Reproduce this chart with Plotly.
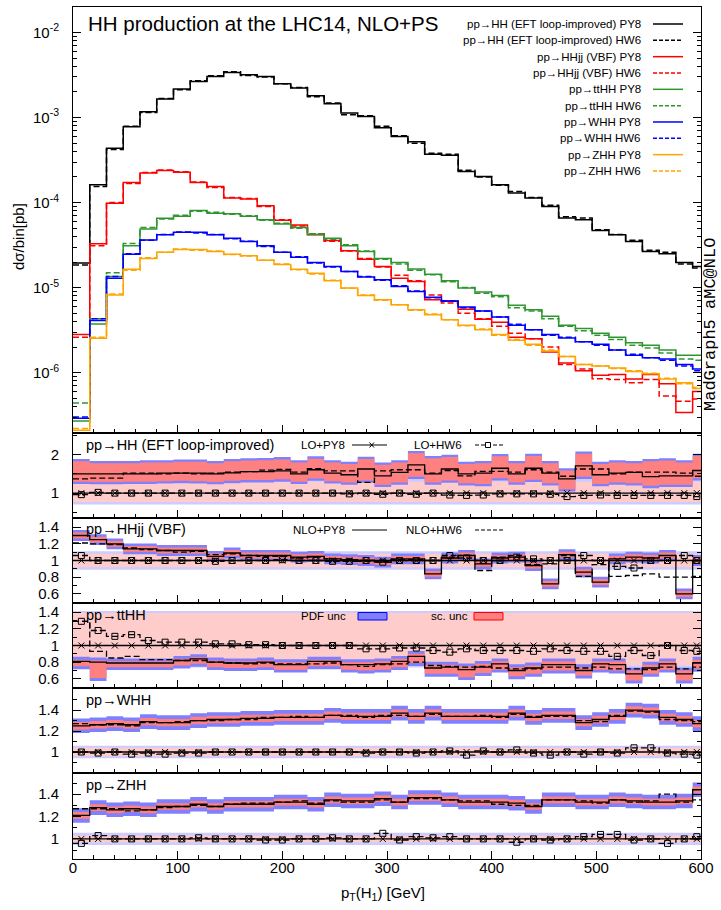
import plotly.graph_objects as go

# ---------------- data ----------------
EDGES = list(range(0, 600, 16)) + [600]          # 38 bins, last one clipped at 600 GeV
CENTERS = [(EDGES[i] + EDGES[i + 1]) / 2 for i in range(len(EDGES) - 1)]

# main panel: d sigma / bin [pb]
HH_PY8 = [1.95e-5, 1.62e-4, 4.36e-4, 7.8e-4, 1.17e-3, 1.65e-3, 2.16e-3, 2.66e-3, 3.04e-3, 3.38e-3,
          3.18e-3, 3.04e-3, 2.49e-3, 2.22e-3, 1.80e-3, 1.45e-3, 1.13e-3, 1.03e-3, 7.6e-4, 6.0e-4,
          5.2e-4, 3.7e-4, 3.6e-4, 2.32e-4, 2.03e-4, 1.62e-4, 1.30e-4, 1.13e-4, 9.0e-5, 6.6e-5,
          6.3e-5, 4.69e-5, 4.17e-5, 3.48e-5, 2.65e-5, 2.5e-5, 1.97e-5, 1.77e-5]
HH_HW6 = [1.85e-5, 1.55e-4, 4.2e-4, 7.9e-4, 1.15e-3, 1.68e-3, 2.12e-3, 2.7e-3, 3.1e-3, 3.45e-3,
          3.12e-3, 3.0e-3, 2.5e-3, 2.25e-3, 1.75e-3, 1.48e-3, 1.08e-3, 1.05e-3, 7.9e-4, 6.1e-4,
          5.0e-4, 3.8e-4, 3.7e-4, 2.4e-4, 2.0e-4, 1.6e-4, 1.35e-4, 1.15e-4, 9.3e-5, 6.8e-5,
          6.6e-5, 4.8e-5, 4.2e-5, 3.6e-5, 2.75e-5, 2.6e-5, 1.9e-5, 1.7e-5]
VBF_PY8 = [2.8e-6, 3.27e-5, 9.8e-5, 1.72e-4, 2.22e-4, 2.38e-4, 2.27e-4, 1.72e-4, 1.54e-4, 1.13e-4,
           1.1e-4, 9.2e-5, 6.2e-5, 5.44e-5, 4.17e-5, 3.57e-5, 2.72e-5, 2.16e-5, 1.77e-5, 1.29e-5,
           1.18e-5, 7.2e-6, 7.0e-6, 5.57e-6, 4.25e-6, 3.9e-6, 2.6e-6, 2.5e-6, 1.75e-6, 1.3e-6,
           1.05e-6, 9.3e-7, 9.5e-7, 8.4e-7, 9.5e-7, 7.4e-7, 3.4e-7, 6.0e-7]
VBF_HW6 = [2.6e-6, 3.1e-5, 1.0e-4, 1.68e-4, 2.25e-4, 2.42e-4, 2.3e-4, 1.75e-4, 1.5e-4, 1.15e-4,
           1.12e-4, 9.0e-5, 6.3e-5, 5.3e-5, 4.3e-5, 3.5e-5, 2.7e-5, 2.2e-5, 1.75e-5, 1.4e-5,
           1.2e-5, 8.2e-6, 6.6e-6, 5.0e-6, 4.3e-6, 3.5e-6, 2.9e-6, 2.5e-6, 2.0e-6, 1.25e-6,
           1.1e-6, 8.5e-7, 8.3e-7, 7.6e-7, 8.3e-7, 5.3e-7, 4.6e-7, 4.9e-7]
TTHH_PY8 = [2.7e-7, 3.74e-6, 1.35e-5, 3.1e-5, 4.9e-5, 6.55e-5, 6.9e-5, 8.05e-5, 7.5e-5, 7.4e-5,
            6.9e-5, 6.3e-5, 5.6e-5, 5.1e-5, 4.2e-5, 3.8e-5, 3.1e-5, 2.65e-5, 2.2e-5, 1.97e-5,
            1.65e-5, 1.44e-5, 1.2e-5, 9.9e-6, 8.9e-6, 8.1e-6, 6.2e-6, 5.5e-6, 4.6e-6, 3.6e-6,
            3.3e-6, 2.9e-6, 2.6e-6, 2.25e-6, 2.1e-6, 1.85e-6, 1.6e-6, 1.6e-6]
TTHH_HW6 = [4.4e-7, 4.3e-6, 1.5e-5, 3.3e-5, 5.1e-5, 6.4e-5, 7.1e-5, 7.9e-5, 7.7e-5, 7.3e-5,
            7.0e-5, 6.2e-5, 5.7e-5, 5.0e-5, 4.3e-5, 3.7e-5, 3.2e-5, 2.7e-5, 2.15e-5, 1.9e-5,
            1.6e-5, 1.42e-5, 1.17e-5, 1.0e-5, 8.6e-6, 7.8e-6, 5.8e-6, 5.3e-6, 4.3e-6, 3.5e-6,
            3.1e-6, 2.75e-6, 2.45e-6, 2.1e-6, 1.95e-6, 1.7e-6, 1.45e-6, 1.4e-6]
WHH_PY8 = [2.9e-7, 4.1e-6, 1.29e-5, 2.47e-5, 3.64e-5, 4.17e-5, 4.47e-5, 4.47e-5, 4.17e-5, 3.8e-5,
           3.48e-5, 3.1e-5, 2.6e-5, 2.27e-5, 1.97e-5, 1.77e-5, 1.55e-5, 1.33e-5, 1.24e-5, 1.03e-5,
           9.0e-6, 7.7e-6, 6.9e-6, 5.9e-6, 5.3e-6, 4.5e-6, 3.6e-6, 3.2e-6, 2.8e-6, 2.55e-6,
           2.3e-6, 2.15e-6, 1.85e-6, 1.6e-6, 1.5e-6, 1.45e-6, 1.25e-6, 1.1e-6]
WHH_HW6 = [3.0e-7, 4.3e-6, 1.35e-5, 2.5e-5, 3.6e-5, 4.2e-5, 4.5e-5, 4.4e-5, 4.2e-5, 3.75e-5,
           3.5e-5, 3.05e-5, 2.6e-5, 2.3e-5, 1.95e-5, 1.75e-5, 1.55e-5, 1.35e-5, 1.22e-5, 1.05e-5,
           9.1e-6, 7.6e-6, 7.0e-6, 5.8e-6, 5.3e-6, 4.5e-6, 3.7e-6, 3.2e-6, 2.75e-6, 2.6e-6,
           2.3e-6, 2.1e-6, 1.85e-6, 1.65e-6, 1.5e-6, 1.4e-6, 1.2e-6, 1.05e-6]
ZHH_PY8 = [2.1e-7, 2.54e-6, 8.2e-6, 1.64e-5, 2.2e-5, 2.6e-5, 2.8e-5, 2.8e-5, 2.65e-5, 2.47e-5,
           2.37e-5, 2.1e-5, 1.87e-5, 1.64e-5, 1.47e-5, 1.2e-5, 9.9e-6, 8.1e-6, 7.2e-6, 6.3e-6,
           5.5e-6, 4.8e-6, 4.2e-6, 3.6e-6, 3.2e-6, 2.8e-6, 2.4e-6, 2.15e-6, 1.8e-6, 1.55e-6,
           1.25e-6, 1.2e-6, 1.13e-6, 1.03e-6, 9.7e-7, 8.4e-7, 7.6e-7, 6.5e-7]
ZHH_HW6 = [2.2e-7, 2.6e-6, 8.4e-6, 1.6e-5, 2.25e-5, 2.6e-5, 2.85e-5, 2.75e-5, 2.7e-5, 2.45e-5,
           2.35e-5, 2.1e-5, 1.9e-5, 1.62e-5, 1.45e-5, 1.22e-5, 9.8e-6, 8.2e-6, 7.1e-6, 6.3e-6,
           5.4e-6, 4.9e-6, 4.2e-6, 3.55e-6, 3.25e-6, 2.75e-6, 2.45e-6, 2.1e-6, 1.85e-6, 1.55e-6,
           1.25e-6, 1.2e-6, 1.12e-6, 1.05e-6, 9.8e-7, 8.6e-7, 7.4e-7, 6.7e-7]

# ratio panels (ratio over LO+PY8)
LO_PY8 = [1.0, 1.0, 1.0, 1.0, 1.0, 1.0, 1.0, 1.0, 1.0, 1.0, 1.0, 1.0, 1.0, 1.0, 1.0, 1.0, 1.0, 1.0, 1.0,
          1.0, 1.0, 1.0, 1.0, 1.0, 1.0, 1.0, 1.0, 1.0, 1.0, 1.0, 1.0, 1.0, 1.0, 1.0, 1.0, 1.0, 1.0, 1.0]

HH_K_PY8 = [1.50, 1.50, 1.50, 1.50, 1.50, 1.52, 1.52, 1.52, 1.50, 1.53, 1.56, 1.56, 1.58, 1.50, 1.61, 1.52, 1.48,
            1.63, 1.45, 1.54, 1.74, 1.50, 1.63, 1.50, 1.52, 1.65, 1.50, 1.65, 1.52, 1.37, 1.71, 1.48, 1.52,
            1.54, 1.43, 1.45, 1.45, 1.59]
HH_K_HW6 = [1.37, 1.39, 1.39, 1.52, 1.52, 1.50, 1.52, 1.50, 1.52, 1.55, 1.56, 1.60, 1.62, 1.55, 1.64, 1.58, 1.58,
            1.28, 1.58, 1.61, 1.61, 1.52, 1.59, 1.45, 1.57, 1.57, 1.55, 1.61, 1.55, 1.44, 1.63, 1.63, 1.50,
            1.55, 1.55, 1.55, 1.52, 1.44]
HH_LO_HW6 = [0.96, 1.02, 1.0, 1.0, 1.0, 1.0, 1.0, 1.0, 1.0, 1.0, 1.0, 1.0, 1.0, 1.0, 1.0, 1.0, 0.98,
             1.0, 0.97, 1.0, 0.97, 1.0, 0.95, 0.94, 0.95, 0.98, 0.98, 0.98, 0.97, 0.91, 0.94, 0.95, 0.94,
             0.94, 0.94, 0.94, 0.94, 0.91]
HH_SC_HI = [1.83, 1.78, 1.78, 1.78, 1.80, 1.80, 1.82, 1.82, 1.78, 1.83, 1.85, 1.86, 1.88, 1.80, 1.90, 1.80, 1.76,
            1.89, 1.74, 1.80, 2.04, 1.91, 1.94, 1.76, 1.78, 1.96, 1.78, 1.97, 1.78, 1.59, 2.03, 1.76, 1.80,
            1.78, 1.83, 1.85, 1.80, 1.97]
HH_SC_LO = [1.30, 1.29, 1.29, 1.30, 1.30, 1.31, 1.32, 1.31, 1.29, 1.32, 1.34, 1.34, 1.36, 1.30, 1.38, 1.31, 1.28,
            1.33, 1.22, 1.28, 1.43, 1.28, 1.33, 1.26, 1.24, 1.39, 1.28, 1.35, 1.26, 1.10, 1.43, 1.24, 1.28,
            1.26, 1.19, 1.22, 1.22, 1.39]

VBF_K_PY8 = [1.30, 1.25, 1.20, 1.14, 1.14, 1.12, 1.12, 1.12, 1.05, 1.09, 1.06, 1.06, 1.06, 1.04, 1.05, 1.02, 1.01,
             1.00, 0.98, 1.02, 1.02, 0.84, 1.03, 1.06, 0.96, 1.03, 1.04, 0.94, 0.72, 1.07, 0.86, 0.74, 1.02,
             1.04, 1.03, 1.06, 0.60, 1.00]
VBF_K_HW6 = [1.21, 1.20, 1.19, 1.15, 1.13, 1.12, 1.10, 1.11, 1.07, 1.08, 1.06, 1.05, 1.05, 1.03, 1.04, 1.02, 1.00,
             0.99, 0.99, 1.01, 1.01, 1.00, 1.04, 1.06, 0.88, 1.04, 1.06, 0.95, 0.96, 1.06, 0.81, 0.95, 0.81,
             0.82, 0.84, 0.80, 0.80, 0.81]
VBF_LO_HW6 = [1.06, 1.0, 1.0, 1.0, 1.0, 1.0, 1.0, 1.0, 0.99, 1.0, 1.0, 1.0, 1.01, 1.0, 1.0, 0.99, 0.99,
              1.0, 0.98, 1.0, 1.0, 1.0, 1.06, 1.03, 1.0, 1.0, 1.04, 1.02, 1.0, 1.0, 1.06, 1.0, 0.93,
              0.91, 1.0, 1.0, 1.06, 1.0]

TTHH_K_PY8 = [0.81, 0.80, 0.79, 0.79, 0.79, 0.79, 0.82, 0.84, 0.80, 0.79, 0.79, 0.80, 0.77, 0.77, 0.81, 0.81, 0.77,
              0.77, 0.78, 0.81, 0.87, 0.73, 0.74, 0.71, 0.74, 0.78, 0.70, 0.73, 0.77, 0.77, 0.70, 0.78, 0.77,
              0.66, 0.73, 0.78, 0.66, 0.79]
TTHH_K_HW6 = [1.29, 0.93, 0.85, 0.87, 0.83, 0.83, 0.82, 0.82, 0.80, 0.79, 0.78, 0.79, 0.78, 0.78, 0.78, 0.79, 0.77,
              0.75, 0.77, 0.78, 0.80, 0.76, 0.75, 0.74, 0.75, 0.73, 0.72, 0.72, 0.74, 0.74, 0.73, 0.74, 0.72,
              0.72, 0.71, 0.74, 0.72, 0.74]
TTHH_LO_HW6 = [1.29, 1.18, 1.11, 1.13, 1.06, 1.04, 1.04, 1.04, 1.02, 1.02, 1.01, 1.01, 1.0, 1.0, 1.0, 1.0, 1.0,
               0.96, 0.96, 0.97, 0.97, 0.94, 0.92, 0.96, 0.94, 0.94, 0.94, 0.93, 0.96, 0.94, 0.93, 0.93, 0.87,
               0.94, 0.88, 1.0, 0.94, 0.93]
TTHH_SC_HI = [0.83, 0.82, 0.81, 0.81, 0.81, 0.81, 0.84, 0.86, 0.82, 0.81, 0.81, 0.82, 0.80, 0.80, 0.83, 0.83, 0.80,
              0.80, 0.81, 0.84, 0.90, 0.77, 0.77, 0.75, 0.78, 0.81, 0.74, 0.76, 0.81, 0.81, 0.74, 0.81, 0.81,
              0.70, 0.77, 0.81, 0.70, 0.83]
TTHH_SC_LO = [0.75, 0.61, 0.74, 0.74, 0.74, 0.74, 0.76, 0.78, 0.74, 0.73, 0.73, 0.74, 0.71, 0.71, 0.75, 0.75, 0.71,
              0.70, 0.71, 0.74, 0.79, 0.66, 0.66, 0.62, 0.67, 0.71, 0.63, 0.66, 0.70, 0.70, 0.64, 0.71, 0.70,
              0.58, 0.66, 0.71, 0.58, 0.72]

WHH_K_PY8 = [1.25, 1.26, 1.27, 1.26, 1.29, 1.28, 1.28, 1.30, 1.31, 1.31, 1.32, 1.32, 1.33, 1.33, 1.33, 1.35, 1.34,
             1.34, 1.34, 1.37, 1.34, 1.37, 1.34, 1.34, 1.34, 1.34, 1.37, 1.33, 1.35, 1.35, 1.28, 1.31, 1.34,
             1.40, 1.39, 1.33, 1.31, 1.27]
WHH_K_HW6 = [1.27, 1.26, 1.26, 1.25, 1.28, 1.28, 1.29, 1.30, 1.30, 1.31, 1.31, 1.33, 1.33, 1.34, 1.33, 1.35, 1.35,
             1.33, 1.35, 1.35, 1.34, 1.36, 1.34, 1.34, 1.35, 1.33, 1.36, 1.34, 1.34, 1.34, 1.30, 1.29, 1.35,
             1.39, 1.38, 1.31, 1.30, 1.29]
WHH_LO_HW6 = [1.0, 0.99, 1.0, 0.98, 0.99, 0.98, 0.99, 0.99, 1.0, 1.0, 1.0, 1.0, 1.0, 1.0, 1.0, 1.0, 1.0,
              0.99, 1.0, 1.0, 0.99, 1.0, 1.01, 0.97, 1.01, 1.0, 1.02, 0.99, 0.97, 1.0, 0.98, 1.0, 0.99,
              1.04, 1.04, 0.99, 0.98, 0.97]

ZHH_K_PY8 = [1.21, 1.28, 1.26, 1.27, 1.26, 1.29, 1.29, 1.31, 1.29, 1.31, 1.31, 1.31, 1.33, 1.33, 1.31, 1.35, 1.34,
             1.34, 1.36, 1.33, 1.37, 1.37, 1.35, 1.33, 1.33, 1.33, 1.32, 1.29, 1.35, 1.35, 1.33, 1.33, 1.35,
             1.34, 1.33, 1.33, 1.34, 1.44]
ZHH_K_HW6 = [1.27, 1.27, 1.27, 1.25, 1.26, 1.28, 1.29, 1.30, 1.29, 1.31, 1.32, 1.32, 1.33, 1.34, 1.32, 1.34, 1.33,
             1.33, 1.35, 1.33, 1.36, 1.36, 1.35, 1.34, 1.34, 1.31, 1.30, 1.30, 1.35, 1.35, 1.34, 1.32, 1.35,
             1.33, 1.34, 1.40, 1.33, 1.35]
ZHH_LO_HW6 = [0.96, 1.03, 1.0, 1.0, 1.0, 1.0, 1.0, 1.01, 1.0, 1.0, 1.0, 0.99, 0.99, 1.0, 1.0, 1.01, 1.0,
              1.0, 1.05, 0.99, 1.02, 1.01, 1.02, 1.0, 1.0, 1.0, 0.97, 1.0, 0.99, 1.0, 1.02, 1.04, 1.04,
              0.99, 1.0, 0.96, 1.0, 1.02]

# uncertainty magnitudes (absolute, in ratio units)
VBF_SC = 0.035
WHH_SC = 0.035
ZHH_SC = 0.03
PDF_NLO = {"HH": 0.06, "VBF": 0.03, "TTHH": 0.035, "WHH": 0.035, "ZHH": 0.035}
LO_BAND = {"HH": (0.77, 1.30), "VBF": (0.92, 1.08), "TTHH": (0.76, 1.39), "WHH": (0.96, 1.04), "ZHH": (0.97, 1.03)}
PDF_LO = {"HH": 0.07, "VBF": 0.03, "TTHH": 0.025, "WHH": 0.02, "ZHH": 0.025}

# ---------------- style ----------------
FONT = "Liberation Sans, Arial, Helvetica, sans-serif"
C_BLACK, C_RED, C_GREEN, C_BLUE, C_ORANGE = "#000000", "#ff0000", "#2f962f", "#0000ff", "#ffa500"
F_SC, F_PDF, F_LOSC, F_LOPDF = "#ff8080", "#8080ff", "#ffcccc", "#ccccff"
DASH = "6px,3px"

L_PX, R_PX, T_PX, B_PX, W, H = 73, 701, 7, 859, 721, 910


def px(x):
    return (x - L_PX) / (R_PX - L_PX)


def py(y):
    return (B_PX - y) / (B_PX - T_PX)


def steps(v):
    return list(v) + [v[-1]]


fig = go.Figure()

# main panel
main_series = [
    (HH_PY8, C_BLACK, "solid"), (HH_HW6, C_BLACK, DASH),
    (VBF_PY8, C_RED, "solid"), (VBF_HW6, C_RED, DASH),
    (TTHH_PY8, C_GREEN, "solid"), (TTHH_HW6, C_GREEN, DASH),
    (WHH_PY8, C_BLUE, "solid"), (WHH_HW6, C_BLUE, DASH),
    (ZHH_PY8, C_ORANGE, "solid"), (ZHH_HW6, C_ORANGE, DASH),
]
for vals, col, dash in main_series:
    fig.add_trace(go.Scatter(x=EDGES, y=steps(vals), mode="lines",
                             line=dict(color=col, width=1.5, shape="hv", dash=dash),
                             xaxis="x", yaxis="y", showlegend=False, hoverinfo="skip"))


def band(ax, lo, hi, color):
    fig.add_trace(go.Scatter(x=EDGES, y=steps(hi), mode="lines", line=dict(width=0, shape="hv"),
                             xaxis="x" + ax, yaxis="y" + ax, showlegend=False, hoverinfo="skip"))
    fig.add_trace(go.Scatter(x=EDGES, y=steps(lo), mode="lines", line=dict(width=0, shape="hv"),
                             fill="tonexty", fillcolor=color,
                             xaxis="x" + ax, yaxis="y" + ax, showlegend=False, hoverinfo="skip"))


def panel(ax, key, k_py8, k_hw6, lo_hw6, sc_lo, sc_hi):
    lo_dn, lo_up = LO_BAND[key]
    pl = PDF_LO[key]
    pn = PDF_NLO[key]
    n = len(k_py8)
    band(ax, [lo_dn - pl] * n, [lo_up + pl] * n, F_LOPDF)
    band(ax, [lo_dn] * n, [lo_up] * n, F_LOSC)
    band(ax, [v - pn for v in sc_lo], [v + pn for v in sc_hi], F_PDF)
    band(ax, sc_lo, sc_hi, F_SC)
    common = dict(xaxis="x" + ax, yaxis="y" + ax, showlegend=False, hoverinfo="skip")
    # NLO lines
    fig.add_trace(go.Scatter(x=EDGES, y=steps(k_py8), mode="lines",
                             line=dict(color="black", width=1.3, shape="hv"), **common))
    fig.add_trace(go.Scatter(x=EDGES, y=steps(k_hw6), mode="lines",
                             line=dict(color="black", width=1.3, shape="hv", dash=DASH), **common))
    # LO lines
    fig.add_trace(go.Scatter(x=EDGES, y=steps(LO_PY8), mode="lines",
                             line=dict(color="black", width=1.3, shape="hv"), **common))
    fig.add_trace(go.Scatter(x=CENTERS, y=LO_PY8, mode="markers",
                             marker=dict(symbol="x-thin-open", size=6, color="black",
                                         line=dict(color="black", width=1)), **common))
    fig.add_trace(go.Scatter(x=EDGES, y=steps(lo_hw6), mode="lines",
                             line=dict(color="black", width=1.3, shape="hv", dash=DASH), **common))
    fig.add_trace(go.Scatter(x=CENTERS, y=lo_hw6, mode="markers",
                             marker=dict(symbol="square-open", size=6, color="black",
                                         line=dict(color="black", width=1)), **common))


panel("2", "HH", HH_K_PY8, HH_K_HW6, HH_LO_HW6, HH_SC_LO, HH_SC_HI)
panel("3", "VBF", VBF_K_PY8, VBF_K_HW6, VBF_LO_HW6,
      [v - VBF_SC for v in VBF_K_PY8], [v + VBF_SC for v in VBF_K_PY8])
panel("4", "TTHH", TTHH_K_PY8, TTHH_K_HW6, TTHH_LO_HW6, TTHH_SC_LO, TTHH_SC_HI)
panel("5", "WHH", WHH_K_PY8, WHH_K_HW6, WHH_LO_HW6,
      [v - WHH_SC for v in WHH_K_PY8], [v + WHH_SC for v in WHH_K_PY8])
panel("6", "ZHH", ZHH_K_PY8, ZHH_K_HW6, ZHH_LO_HW6,
      [v - ZHH_SC for v in ZHH_K_PY8], [v + ZHH_SC for v in ZHH_K_PY8])

# ---------------- axes ----------------
tickfont = dict(family=FONT, size=15, color="black")
XMAJ = [0, 100, 200, 300, 400, 500, 600]
XMIN = [v for v in range(20, 600, 20) if v % 100]

panel_px = [(T_PX, 433), (433, 518), (518, 603), (603, 688), (688, 773), (773, B_PX)]
domains = [[py(b), py(t)] for t, b in panel_px]


def xaxis_def(i):
    d = dict(domain=[0, 1], range=[0, 600], anchor="y" if i == 1 else "y%d" % i,
             showline=True, linecolor="black", linewidth=1, mirror=True,
             ticks="inside", ticklen=8, tickwidth=1, tickcolor="black",
             tickmode="array", tickvals=XMAJ, showgrid=False, zeroline=False,
             minor=dict(ticks="inside", ticklen=4, tickwidth=1, tickcolor="black",
                        tickmode="array", tickvals=XMIN, showgrid=False),
             showticklabels=(i == 6), tickfont=tickfont, ticklabelstandoff=-5)
    if i > 1:
        d["matches"] = "x"
    return d


def yaxis_def(i, rng, tv, tt, minor_vals, log=False):
    d = dict(domain=domains[i - 1], range=rng, anchor="x" if i == 1 else "x%d" % i,
             showline=True, linecolor="black", linewidth=1, mirror="ticks",
             ticks="inside", ticklen=8, tickwidth=1, tickcolor="black",
             tickmode="array", tickvals=tv, ticktext=tt, showgrid=False, zeroline=False,
             minor=dict(ticks="inside", ticklen=4, tickwidth=1, tickcolor="black",
                        tickmode="array", tickvals=minor_vals, showgrid=False),
             tickfont=tickfont, ticklabelstandoff=10)
    if log:
        d["type"] = "log"
    return d


main_major = [1e-6, 1e-5, 1e-4, 1e-3, 1e-2]
main_text = ["10<sup>-6</sup>", "10<sup>-5</sup>", "10<sup>-4</sup>", "10<sup>-3</sup>", "10<sup>-2</sup>"]
main_minor = [k * 10.0 ** e for e in range(-7, -1) for k in range(2, 10)]

layout_axes = {}
for i in range(1, 7):
    layout_axes["xaxis" if i == 1 else "xaxis%d" % i] = xaxis_def(i)
layout_axes["yaxis"] = yaxis_def(1, [-6.71, -1.70], main_major, main_text, main_minor, log=True)
layout_axes["yaxis2"] = yaxis_def(2, [0.35, 2.57], [1, 2], ["1", "2"], [0.5, 1.5, 2.5])
layout_axes["yaxis3"] = yaxis_def(3, [0.49, 1.51], [0.6, 0.8, 1, 1.2, 1.4], ["0.6", "0.8", "1", "1.2", "1.4"],
                                  [0.5, 0.7, 0.9, 1.1, 1.3, 1.5])
layout_axes["yaxis4"] = yaxis_def(4, [0.49, 1.51], [0.6, 0.8, 1, 1.2, 1.4], ["0.6", "0.8", "1", "1.2", "1.4"],
                                  [0.5, 0.7, 0.9, 1.1, 1.3, 1.5])
layout_axes["yaxis5"] = yaxis_def(5, [0.80, 1.61], [1, 1.2, 1.4], ["1", "1.2", "1.4"], [0.9, 1.1, 1.3, 1.5])
layout_axes["yaxis6"] = yaxis_def(6, [0.82, 1.59], [1, 1.2, 1.4], ["1", "1.2", "1.4"], [0.9, 1.1, 1.3, 1.5])

annotations = []
shapes = []


def text(x, y, s, size, anchor="left", family=FONT, angle=0):
    annotations.append(dict(x=px(x), y=py(y), xref="paper", yref="paper", text=s, showarrow=False,
                            xanchor=anchor, yanchor="middle", textangle=angle,
                            font=dict(family=family, size=size, color="black")))


def hline(x0, x1, y, color, dash="solid", width=1.5):
    shapes.append(dict(type="line", xref="paper", yref="paper", x0=px(x0), x1=px(x1), y0=py(y), y1=py(y),
                       line=dict(color=color, width=width, dash=dash)))


# title
text(86, 23, "HH production at the LHC14, NLO+PS", 20.5)

# main legend
legend_rows = [
    ("pp→HH (EFT loop-improved) PY8", C_BLACK, "solid"),
    ("pp→HH (EFT loop-improved) HW6", C_BLACK, "dash"),
    ("pp→HHjj (VBF) PY8", C_RED, "solid"),
    ("pp→HHjj (VBF) HW6", C_RED, "dash"),
    ("pp→ttHH PY8", C_GREEN, "solid"),
    ("pp→ttHH HW6", C_GREEN, "dash"),
    ("pp→WHH PY8", C_BLUE, "solid"),
    ("pp→WHH HW6", C_BLUE, "dash"),
    ("pp→ZHH PY8", C_ORANGE, "solid"),
    ("pp→ZHH HW6", C_ORANGE, "dash"),
]
for j, (lab, col, dsh) in enumerate(legend_rows):
    yy = 24 + j * 16.33
    text(643, yy, lab, 11.5, anchor="right")
    hline(653, 683, yy, col, "4px,2px" if dsh == "dash" else "solid", 1.5)

# axis titles / side label
text(18, 237, "dσ/bin[pb]", 15, anchor="center", angle=-90)
text(383, 893, "p<sub>T</sub>(H<sub>1</sub>) [GeV]", 15, anchor="center")
text(711, 325, "MadGraph5 aMC@NLO", 17, anchor="center", family="Liberation Mono, DejaVu Sans Mono, monospace",
     angle=-90)

# panel labels
text(84, 445, "pp→HH (EFT loop-improved)", 14.5)
text(84, 529, "pp→HHjj (VBF)", 14.5)
text(84, 615, "pp→ttHH", 14.5)
text(84, 700, "pp→WHH", 14.5)
text(84, 785, "pp→ZHH", 14.5)

# ratio-panel legends
text(347, 445, "LO+PY8", 11.5, anchor="right")
hline(352, 387, 445, "black", "solid", 1.2)
shapes.append(dict(type="line", xref="paper", yref="paper", x0=px(369.5), x1=px(374), y0=py(442.5), y1=py(447.5),
                   line=dict(color="black", width=1)))
shapes.append(dict(type="line", xref="paper", yref="paper", x0=px(369.5), x1=px(374), y0=py(447.5), y1=py(442.5),
                   line=dict(color="black", width=1)))
text(464, 445, "LO+HW6", 11.5, anchor="right")
hline(475, 503, 445, "black", "4px,2px", 1.2)
shapes.append(dict(type="rect", xref="paper", yref="paper", x0=px(485.5), x1=px(490.5), y0=py(447.5), y1=py(442.5),
                   line=dict(color="black", width=1), fillcolor="white"))

text(347, 530, "NLO+PY8", 11.5, anchor="right")
hline(352, 387, 530, "black", "solid", 1.2)
text(464, 530, "NLO+HW6", 11.5, anchor="right")
hline(475, 503, 530, "black", "4px,2px", 1.2)

text(348, 616, "PDF unc", 11.5, anchor="right")
shapes.append(dict(type="rect", xref="paper", yref="paper", x0=px(358), x1=px(387), y0=py(620), y1=py(612.5),
                   line=dict(color="#0000ff", width=1), fillcolor=F_PDF))
text(470, 616, "sc. unc", 11.5, anchor="right")
shapes.append(dict(type="rect", xref="paper", yref="paper", x0=px(474), x1=px(503), y0=py(620), y1=py(612.5),
                   line=dict(color="#ff0000", width=1), fillcolor=F_SC))

fig.update_layout(
    width=W, height=H,
    margin=dict(l=L_PX, r=W - R_PX, t=T_PX, b=H - B_PX, pad=0),
    paper_bgcolor="white", plot_bgcolor="white",
    showlegend=False,
    font=dict(family=FONT, color="black"),
    annotations=annotations, shapes=shapes,
    **layout_axes,
)

fig.write_html("out.html", config={"displayModeBar": False},
               post_script="document.body.style.margin='0';document.body.style.overflow='hidden';")
